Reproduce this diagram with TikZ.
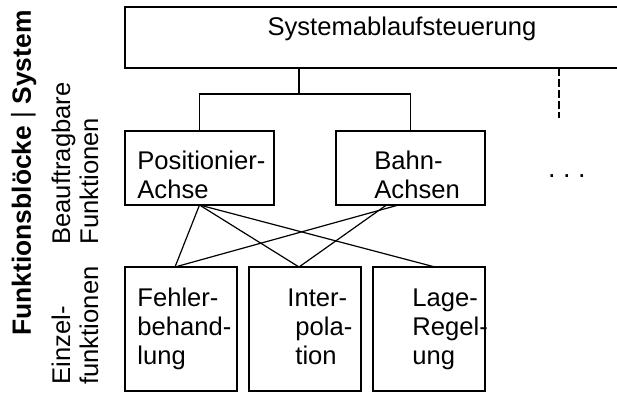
\documentclass[tikz,border=0pt]{standalone}
\usepackage{fontspec}
\setmainfont{Liberation Sans}
\usetikzlibrary{calc}

\tikzset{
  block/.style={draw, line width=0.6pt, anchor=north west, inner sep=0pt, outer sep=0pt},
  blocktext/.style={anchor=base west, align=left, inner sep=0pt,
    font=\fontsize{12.8}{14.5}\selectfont},
  sidetext/.style={rotate=90, anchor=base west, align=left, inner sep=0pt,
    font=\fontsize{12.8}{14}\selectfont},
  link/.style={line width=0.6pt}
}

\begin{document}
\begin{tikzpicture}[x=0.5pt, y=-0.5pt]
   \useasboundingbox (0,0) rectangle (617,392);
   % system level
   \node[block, minimum width=260pt, minimum height=30.5pt] (system) at (125,7) {};
   \node[blocktext, anchor=base] (systemtxt) at (402,35) {Systemablaufsteuerung};
   % callable functions
   \node[block, minimum width=74.5pt, minimum height=37pt] (pos) at (125,131) {};
   \node[blocktext] (postxt) at (137,198) {Positionier-\\Achse};
   \node[block, minimum width=74.5pt, minimum height=37pt] (bahn) at (336,131) {};
   \node[blocktext] (bahntxt) at (374,198) {Bahn-\\Achsen};
   \node[blocktext, anchor=base, font=\fontsize{13.5}{14.5}\selectfont] (more) at (567,177) {.\ .\ .};
   % single functions
   \node[block, minimum width=56pt, minimum height=62pt] (fehler) at (125,267) {};
   \node[blocktext] (fehlertxt) at (137,364) {Fehler-\\behand-\\lung};
   \node[block, minimum width=56pt, minimum height=62pt] (interp) at (249,267) {};
   \node[blocktext] (interptxt) at (287,364) {Inter-\\\hspace*{4pt}pola-\\\hspace*{4pt}tion};
   \node[block, minimum width=56pt, minimum height=62pt] (lage) at (373,267) {};
   \node[blocktext] (lagetxt) at (412,364) {Lage-\\Regel-\\ung};
   % side labels
   \node[sidetext, anchor=base, font=\fontsize{13.2}{14}\selectfont] (levels) at (31,173)
      {\textbf{Funktionsblöcke} | \textbf{System}};
   \node[sidetext] (auftrag) at (98,245) {Beauftragbare\\Funktionen};
   \node[sidetext] (einzel) at (98,385) {Einzel-\\funktionen};
   % connections
   \coordinate (fork) at ($(system.south west)+(174,0)$);
   \draw[link] (fork) -- ++(0,26) -| (pos.north);
   \draw[link] (fork) ++(0,26) -| (bahn.north);
   \draw[link, dash pattern=on 4pt off 1.5pt] ($(system.south west)+(434,0)$) -- ++(0,50);
   \draw[link] (pos.south) -- ([xshift=-3pt]fehler.north);
   \draw[link] (pos.south) -- ([xshift=-3pt]interp.north);
   \draw[link] (pos.south) -- ([xshift=3pt]lage.north);
   \draw[link] ([xshift=-6pt]bahn.south) -- ([xshift=-3pt]fehler.north);
   \draw[link] ([xshift=-12pt]bahn.south) -- ([xshift=-3pt]interp.north);
\end{tikzpicture}
\end{document}
